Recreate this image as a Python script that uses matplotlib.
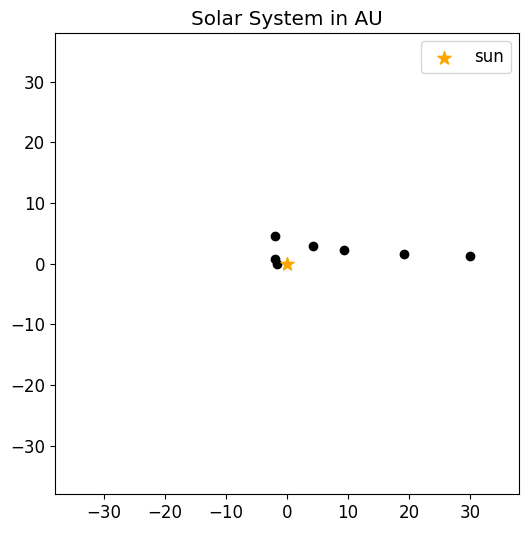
import numpy as np
import matplotlib.pyplot as plt

plt.rcParams['font.size'] = 12

# planet positions in AU
planet_x = [-1.7, -1.95, -2.0, 4.2, 9.3, 19.1, 30.0]
planet_y = [0.0, 0.8, 4.6, 2.97, 2.3, 1.65, 1.3]
sun_x = [0]
sun_y = [0]
lim = 38

fig = plt.figure(figsize=(5.29, 5.33), dpi=100)
ax = fig.add_axes([0.104, 0.073, 0.877, 0.865])
ax.scatter(planet_x, planet_y, color='black')
ax.scatter(sun_x, sun_y, marker='*', s=100, color='orange', label='sun')
ax.set_xlim(-lim, lim)
ax.set_ylim(-lim, lim)
ax.set_xticks([-30, -20, -10, 0, 10, 20, 30])
ax.set_yticks([-30, -20, -10, 0, 10, 20, 30])
ax.set_title('Solar System in AU')
ax.legend(loc='upper right')
fig.savefig('out.png')
